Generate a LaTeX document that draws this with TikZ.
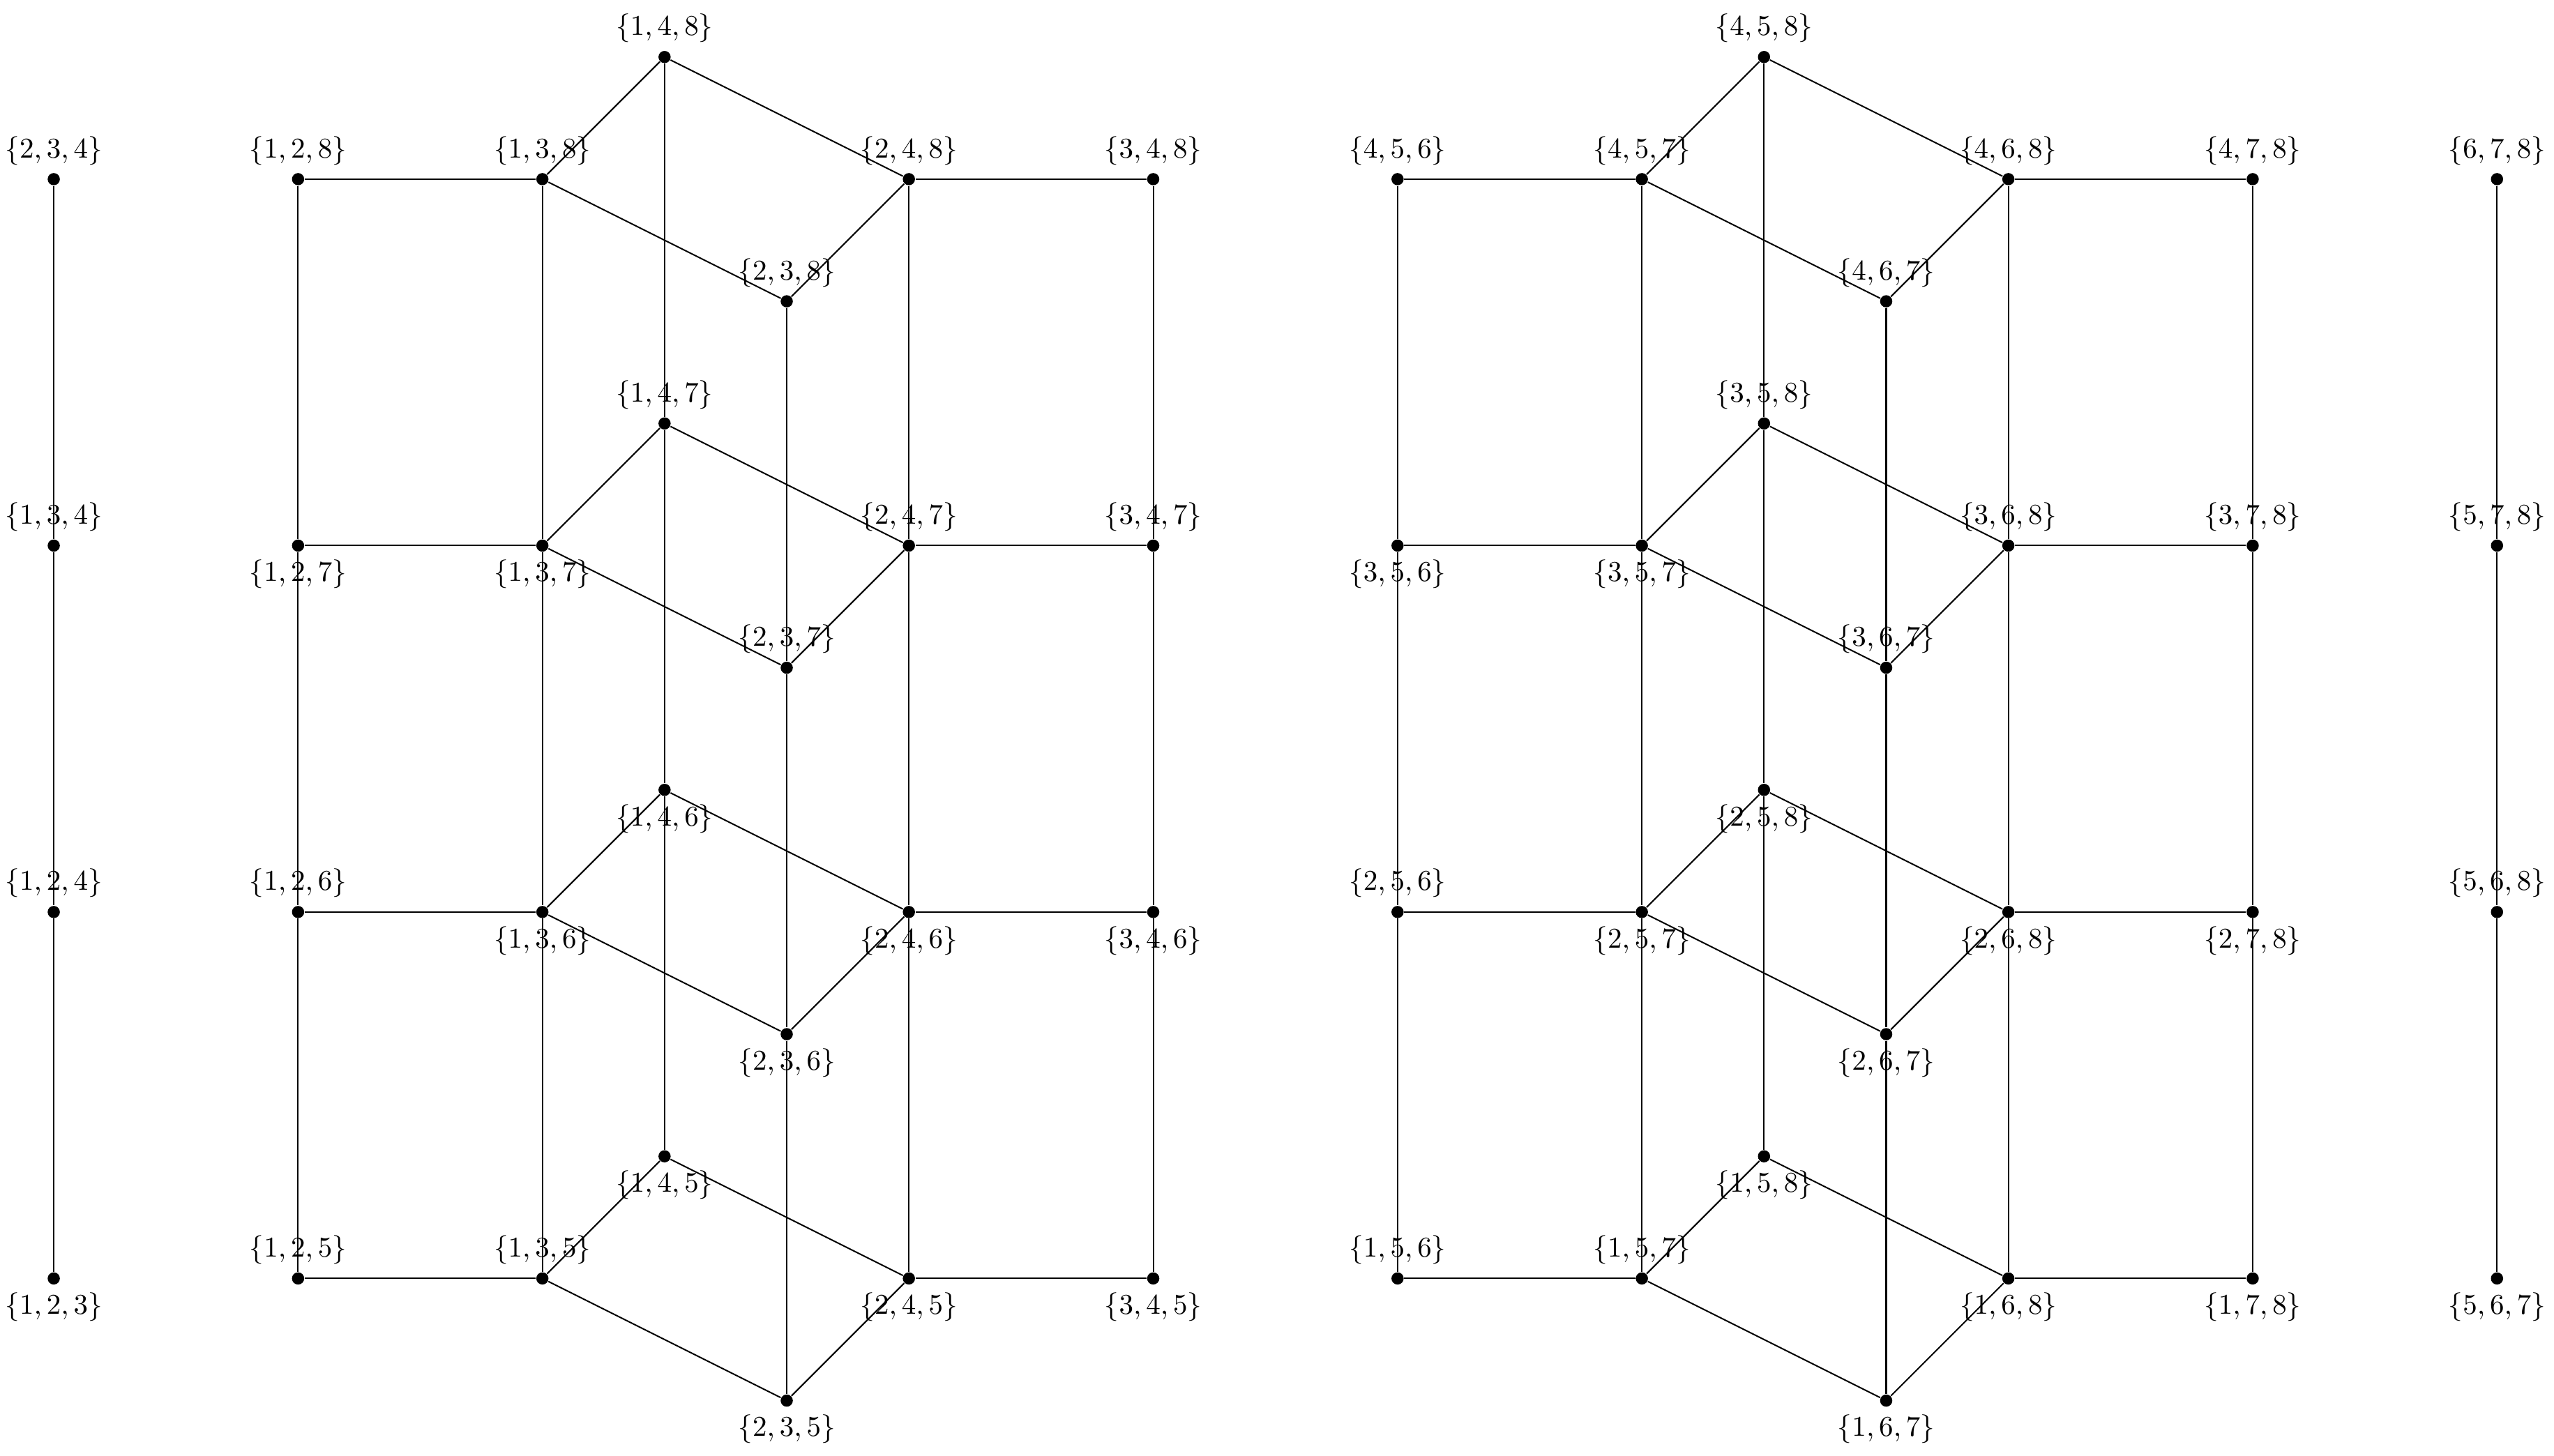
\documentclass[tikz,border=0pt]{standalone}
\begin{document}
\begin{tikzpicture}[x=0.02cm,y=-0.02cm,
  dot/.style={circle,fill=black,inner sep=0pt,minimum size=0.15cm},
  lab/.style={label distance=1.5pt},
  every label/.style={font=\normalsize,inner sep=1pt},
  edge/.style={draw=black,line width=0.5pt}]
\useasboundingbox (0,0) rectangle (1568,894);
\foreach \a/\b/\c/\x/\y/\p in {
 2/3/4/33/110/above,1/3/4/33/335/above,1/2/4/33/560/above,1/2/3/33/785/below,
 1/2/8/183/110/above,1/2/7/183/335/below,1/2/6/183/560/above,1/2/5/183/785/above,
 1/3/8/333/110/above,1/3/7/333/335/below,1/3/6/333/560/below,1/3/5/333/785/above,
 1/4/8/408/35/above,1/4/7/408/260/above,1/4/6/408/485/below,1/4/5/408/710/below,
 2/3/8/483/185/above,2/3/7/483/410/above,2/3/6/483/635/below,2/3/5/483/860/below,
 2/4/8/558/110/above,2/4/7/558/335/above,2/4/6/558/560/below,2/4/5/558/785/below,
 3/4/8/708/110/above,3/4/7/708/335/above,3/4/6/708/560/below,3/4/5/708/785/below,
 4/5/6/858/110/above,3/5/6/858/335/below,2/5/6/858/560/above,1/5/6/858/785/above,
 4/5/7/1008/110/above,3/5/7/1008/335/below,2/5/7/1008/560/below,1/5/7/1008/785/above,
 4/5/8/1083/35/above,3/5/8/1083/260/above,2/5/8/1083/485/below,1/5/8/1083/710/below,
 4/6/7/1158/185/above,3/6/7/1158/410/above,2/6/7/1158/635/below,1/6/7/1158/860/below,
 4/6/8/1233/110/above,3/6/8/1233/335/above,2/6/8/1233/560/below,1/6/8/1233/785/below,
 4/7/8/1383/110/above,3/7/8/1383/335/above,2/7/8/1383/560/below,1/7/8/1383/785/below,
 6/7/8/1533/110/above,5/7/8/1533/335/above,5/6/8/1533/560/above,5/6/7/1533/785/below}
 \node[dot,label={[lab]\p:{$\{\a,\b,\c\}$}}] (n\a\b\c) at (\x,\y) {};
\foreach \u/\v in {234/134,134/124,124/123,678/578,578/568,568/567}
 \draw[edge] (n\u) -- (n\v);
% left block
\foreach \k in {5,6,7,8}{
 \draw[edge] (n12\k) -- (n13\k);
 \draw[edge] (n24\k) -- (n34\k);
 \draw[edge] (n13\k) -- (n14\k) -- (n24\k) -- (n23\k) -- (n13\k);
}
\foreach \p in {12,13,14,23,24,34}{
 \draw[edge] (n\p8) -- (n\p7) -- (n\p6) -- (n\p5);
}
% right block
\foreach \r in {4,3,2,1}{
 \draw[edge] (n\r56) -- (n\r57);
 \draw[edge] (n\r68) -- (n\r78);
 \draw[edge] (n\r57) -- (n\r58) -- (n\r68) -- (n\r67) -- (n\r57);
}
\foreach \p in {56,57,58,67,68,78}{
 \draw[edge] (n4\p) -- (n3\p) -- (n2\p) -- (n1\p);
}
\end{tikzpicture}
\end{document}
